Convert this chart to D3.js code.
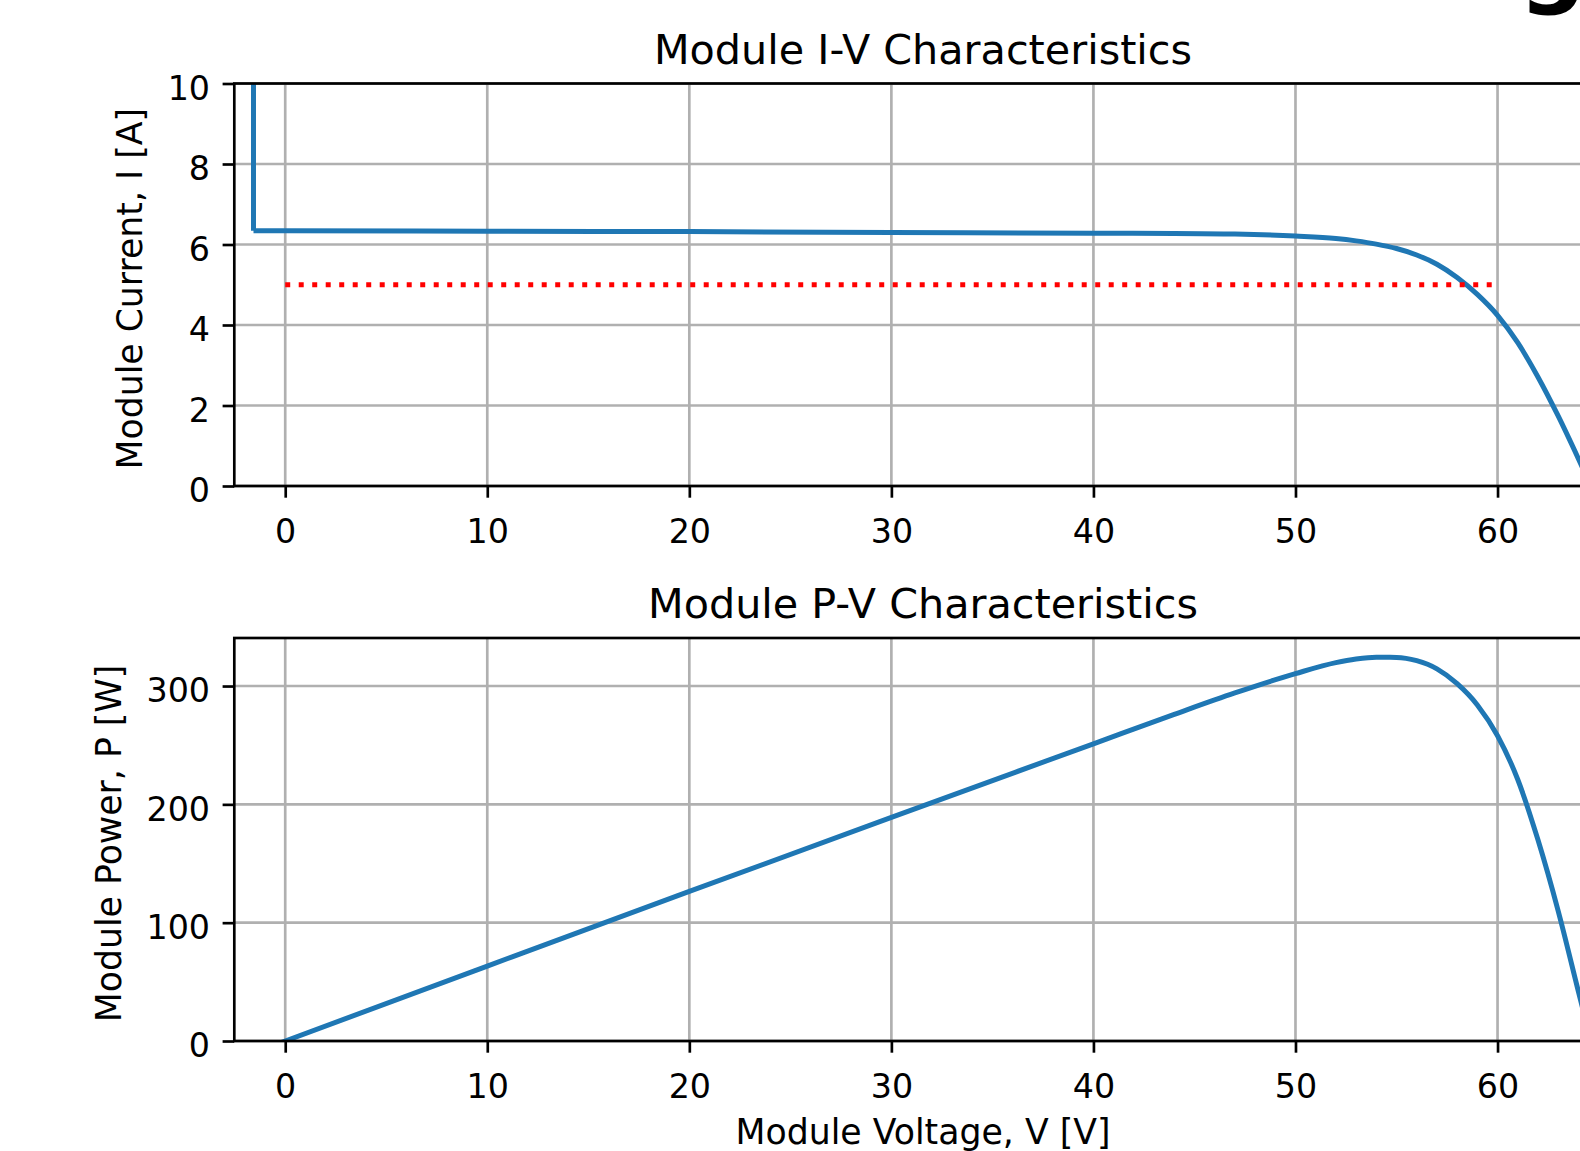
<!DOCTYPE html>
<html>
<head>
<meta charset="utf-8">
<script src="https://cdn.jsdelivr.net/npm/d3@7"></script>
<style>
  body { margin: 0; background: #fff; }
  svg { display: block; font-family: "DejaVu Sans", sans-serif; }
</style>
</head>
<body>
<svg id="svg" width="1580" height="1151"></svg>
<script>
// I-V curve (bypass jump at about -1.57 V)
const bypassVoltage = [-1.57, -1.57];
const bypassCurrent = [12, 6.34];
const ivVoltage = [-1.57, 0, 10, 20, 30, 40, 44, 47, 50, 52, 53, 54, 55, 56, 57, 58, 59, 60, 61, 62, 63, 64, 64.62];
const ivCurrent = [6.34, 6.34, 6.33, 6.32, 6.30, 6.28, 6.275, 6.26, 6.21, 6.15, 6.09, 6.01, 5.90, 5.74, 5.51, 5.18, 4.76, 4.24, 3.56, 2.71, 1.74, 0.68, 0];

// P-V curve
const pvVoltage = [-1.57, 0, 10, 20, 30, 40, 44, 47, 50, 52, 53, 54, 55, 56, 57, 58, 59, 60, 61, 62, 63, 64, 64.62];
const pvPower = [-9.95, 0, 63.3, 126.4, 189.0, 251.2, 276.1, 294.2, 310.5, 319.8, 322.8, 324.3, 324.2, 321.4, 314.5, 302, 284, 258, 221, 170, 110, 42, 0];

// dotted reference current
const refVoltage = [0, 60];
const refCurrent = [5, 5];

// ticks
const xTicks = [0, 10, 20, 30, 40, 50, 60];
const iTicks = [0, 2, 4, 6, 8, 10];
const pTicks = [0, 100, 200, 300];

const blue = "#1f77b4";
const lw = 2.67;       // spines, ticks, grid
const fs = 33.3;       // tick font size
const lfs = 34.7;      // axis label font size

const svg = d3.select("#svg");

const left = 234.3, right = 1611.7;
const x = d3.scaleLinear().domain([-2.52, 65.65]).range([left, right]);

function panel(y0, y1, yDomain, yTicks, title, ylabel, ylabelX, id) {
  const y = d3.scaleLinear().domain(yDomain).range([y1, y0]);
  const g = svg.append("g");

  svg.append("clipPath").attr("id", id)
    .append("rect").attr("x", left).attr("y", y0)
    .attr("width", right - left).attr("height", y1 - y0);

  // grid
  g.selectAll(".vg").data(xTicks).join("line")
    .attr("x1", d => x(d)).attr("x2", d => x(d))
    .attr("y1", y0).attr("y2", y1)
    .attr("stroke", "#b0b0b0").attr("stroke-width", lw);
  g.selectAll(".hg").data(yTicks).join("line")
    .attr("x1", left).attr("x2", right)
    .attr("y1", d => y(d)).attr("y2", d => y(d))
    .attr("stroke", "#b0b0b0").attr("stroke-width", lw);

  // axes
  const xa = g.append("g").attr("transform", `translate(0,${y1})`)
    .call(d3.axisBottom(x).tickValues(xTicks).tickSize(11.7).tickPadding(21.7));
  const ya = g.append("g").attr("transform", `translate(${left},0)`)
    .call(d3.axisLeft(y).tickValues(yTicks).tickSize(11.7).tickPadding(12.6));
  [xa, ya].forEach(a => {
    a.select(".domain").remove();
    a.selectAll("line").attr("stroke", "#000").attr("stroke-width", lw);
    a.selectAll("text").attr("fill", "#000")
      .style("font-size", fs + "px").style("font-family", "DejaVu Sans");
  });
  ya.selectAll("text").attr("dy", "0.47em");

  // title
  g.append("text").attr("x", (left + right) / 2).attr("y", y0 - 20)
    .attr("text-anchor", "middle").style("font-size", "41.3px").text(title);

  // y label
  g.append("text")
    .attr("transform", `translate(${ylabelX},${(y0 + y1) / 2 + 4}) rotate(-90)`)
    .attr("text-anchor", "middle").style("font-size", lfs + "px").text(ylabel);

  const plot = g.append("g").attr("clip-path", `url(#${id})`);
  return { y, plot, g };
}

// upper panel: I-V
const ivPanel = panel(83.5, 486, [0, 10], iTicks, "Module I-V Characteristics",
  "Module Current, I [A]", 142, "clipA");

ivPanel.plot.append("path")
  .datum(d3.zip(bypassVoltage, bypassCurrent))
  .attr("fill", "none").attr("stroke", blue).attr("stroke-width", 5)
  .attr("d", d3.line().x(d => x(d[0])).y(d => ivPanel.y(d[1])));
ivPanel.plot.append("path")
  .datum(d3.zip(ivVoltage, ivCurrent))
  .attr("fill", "none").attr("stroke", blue).attr("stroke-width", 5)
  .attr("stroke-linejoin", "round")
  .attr("d", d3.line().x(d => x(d[0])).y(d => ivPanel.y(d[1])).curve(d3.curveMonotoneX));
ivPanel.plot.append("path")
  .datum(d3.zip(refVoltage, refCurrent))
  .attr("fill", "none").attr("stroke", "#ff0000").attr("stroke-width", 5)
  .attr("stroke-dasharray", "5,8.5")
  .attr("d", d3.line().x(d => x(d[0])).y(d => ivPanel.y(d[1])));

// lower panel: P-V
const pvPanel = panel(638, 1041, [0, 340.6], pTicks, "Module P-V Characteristics",
  "Module Power, P [W]", 121, "clipB");

pvPanel.plot.append("path")
  .datum(d3.zip(pvVoltage, pvPower))
  .attr("fill", "none").attr("stroke", blue).attr("stroke-width", 5)
  .attr("d", d3.line().x(d => x(d[0])).y(d => pvPanel.y(d[1])).curve(d3.curveMonotoneX));

pvPanel.g.append("text").attr("x", (left + right) / 2).attr("y", 1144)
  .attr("text-anchor", "middle").style("font-size", lfs + "px")
  .text("Module Voltage, V [V]");

// spines on top of everything
[[83.5, 486], [638, 1041]].forEach(([t, b]) => {
  svg.append("rect").attr("x", left).attr("y", t)
    .attr("width", right - left).attr("height", b - t)
    .attr("fill", "none").attr("stroke", "#000").attr("stroke-width", lw);
});

// descender of the cropped figure title
svg.append("text").attr("x", 1519).attr("y", -5)
  .style("font-size", "94px").style("font-weight", "bold").text("g");
</script>
</body>
</html>
